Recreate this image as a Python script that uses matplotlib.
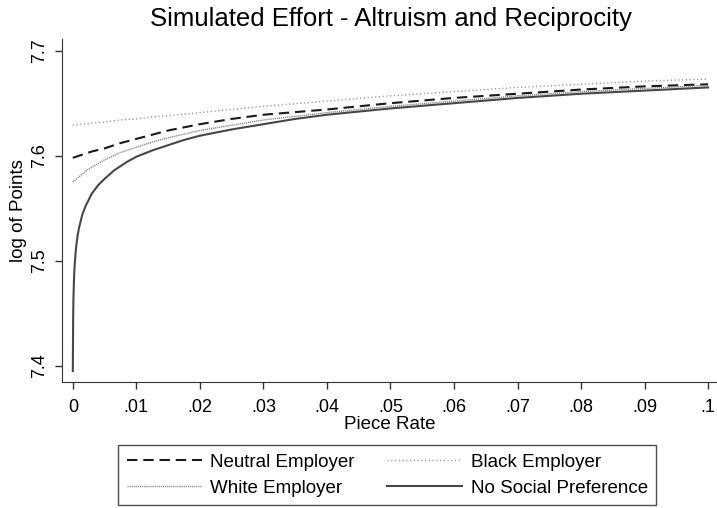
import matplotlib.pyplot as plt

plt.rcParams['font.family'] = ['Liberation Sans', 'DejaVu Sans']

# values
piece_rate = [0, .001, .002, .003, .005, .0075, .01, .0125, .015, .02, .025,
              .03, .04, .05, .06, .07, .08, .09, .1]
neutral = [7.598, 7.600, 7.602, 7.604, 7.607, 7.612, 7.616, 7.620, 7.624,
           7.630, 7.635, 7.639, 7.644, 7.650, 7.655, 7.659, 7.663, 7.666, 7.668]
black = [7.629, 7.630, 7.630, 7.631, 7.632, 7.634, 7.635, 7.637, 7.638,
         7.641, 7.644, 7.647, 7.652, 7.657, 7.661, 7.665, 7.668, 7.671, 7.673]
white = [7.575, 7.580, 7.585, 7.589, 7.596, 7.603, 7.608, 7.613, 7.617,
         7.624, 7.629, 7.634, 7.641, 7.647, 7.652, 7.657, 7.661, 7.664, 7.667]

# the no-preference curve rises steeply near zero, so it gets its own grid
rate_nsp = [0, .00005, .0001, .0002, .0003, .0005, .00075, .001, .0015, .002,
            .003, .004, .005, .0065, .0085, .01, .0125, .015, .0175, .02,
            .025, .03, .035, .04, .05, .06, .07, .08, .09, .1]
no_social = [7.395, 7.445, 7.465, 7.485, 7.497, 7.512, 7.524, 7.532, 7.544,
             7.552, 7.564, 7.572, 7.578, 7.586, 7.594, 7.599, 7.605, 7.610,
             7.615, 7.619, 7.625, 7.630, 7.635, 7.639, 7.645, 7.650, 7.655,
             7.659, 7.662, 7.665]

x_ticks = [0, .01, .02, .03, .04, .05, .06, .07, .08, .09, .1]
x_labels = ['0', '.01', '.02', '.03', '.04', '.05', '.06', '.07', '.08', '.09', '.1']
y_ticks = [7.4, 7.5, 7.6, 7.7]

fig = plt.figure(figsize=(7.17, 5.08), dpi=100)
ax = fig.add_axes([0.0865, 0.248, 0.9135, 0.675])

l_neutral, = ax.plot(piece_rate, neutral, color='#1a1a1a', lw=1.5,
                     ls=(0, (5, 2.8)), label='Neutral Employer')
l_black, = ax.plot(piece_rate, black, color='#8c8c8c', lw=1.0,
                   ls=(0, (0.8, 1.9)), label='Black Employer')
l_white, = ax.plot(piece_rate, white, color='#7a7a7a', lw=1.0,
                   ls=(0, (0.8, 0.7)), label='White Employer')
l_nsp, = ax.plot(rate_nsp, no_social, color='#474747', lw=1.5, ls='-',
                 label='No Social Preference')

ax.set_xlim(-0.0017, 0.1014)
ax.set_ylim(7.3845, 7.711)
ax.set_xticks(x_ticks)
ax.set_xticklabels(x_labels)
ax.set_yticks(y_ticks)
ax.set_yticklabels(['7.4', '7.5', '7.6', '7.7'], rotation=90, va='center')
ax.tick_params(labelsize=13, length=5, width=1, color='#333333')
ax.tick_params(axis='x', pad=7)
ax.tick_params(axis='y', pad=5)

ax.spines['top'].set_visible(False)
ax.spines['right'].set_visible(False)
ax.spines['left'].set_color('#333333')
ax.spines['bottom'].set_color('#333333')

ax.set_xlabel('Piece Rate', fontsize=13.5, labelpad=0)
ax.set_ylabel('log of Points', fontsize=13.5, labelpad=3)
fig.text(0.545, 0.962, 'Simulated Effort - Altruism and Reciprocity',
         fontsize=18.5, ha='center', va='center')

# matplotlib fills legend columns first, so order handles to read row by row
handles = [l_neutral, l_white, l_black, l_nsp]
labels = [h.get_label() for h in handles]
leg = fig.legend(handles, labels, ncol=2, loc='lower center',
                 bbox_to_anchor=(0.54, 0.006), fontsize=13.5, frameon=True,
                 fancybox=False, edgecolor='#222222', handlelength=4.0,
                 handletextpad=0.45, columnspacing=1.75, labelspacing=0.45,
                 borderpad=0.45, borderaxespad=0)
leg.get_frame().set_linewidth(1.0)

plt.savefig('out.png', dpi=100)
